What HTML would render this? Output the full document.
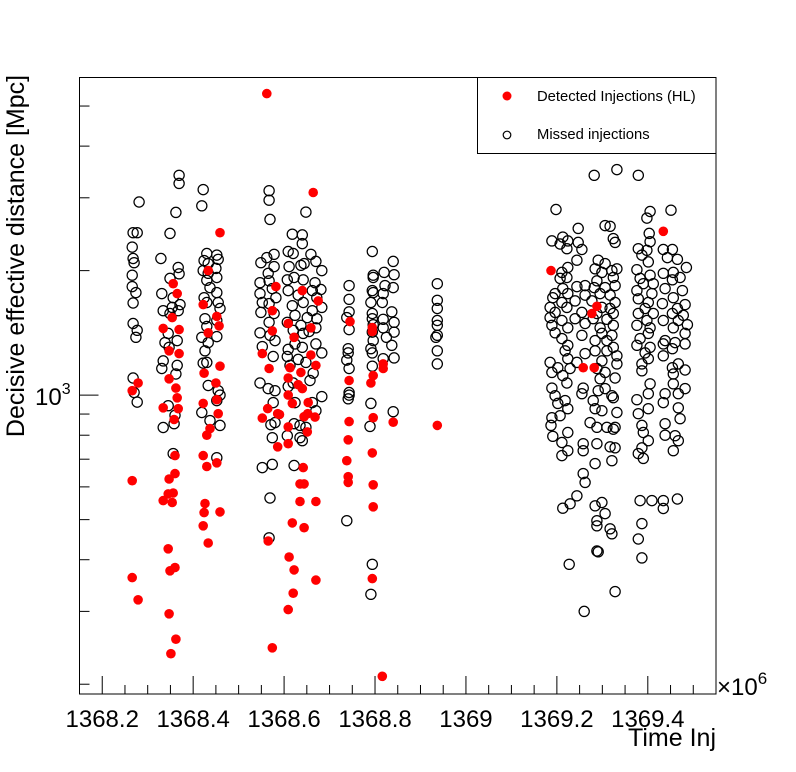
<!DOCTYPE html>
<html><head><meta charset="utf-8">
<style>
html,body{margin:0;padding:0;background:#fff;}
svg{display:block;font-family:"Liberation Sans",Arial,sans-serif;}
</style></head>
<body>
<svg id="chart" width="796" height="772" viewBox="0 0 796 772" xmlns="http://www.w3.org/2000/svg">
<rect x="0" y="0" width="796" height="772" fill="#fff"/>
<g id="marks"></g>
<g id="axes"></g>
<rect x="79.5" y="77.5" width="636.5" height="616.5" fill="none" stroke="#000" stroke-width="1"/>
<g>
<rect x="477.5" y="77.5" width="238.5" height="76" fill="#fff" stroke="#000" stroke-width="1"/>
<circle cx="507" cy="96" r="4.5" fill="#ff0000"/>
<text x="537" y="101" font-size="14.8">Detected Injections (HL)</text>
<circle cx="507" cy="135" r="3.8" fill="none" stroke="#000" stroke-width="1.2"/>
<text x="537" y="139" font-size="14.8">Missed injections</text>
</g>
<text transform="translate(24,256) rotate(-90)" text-anchor="middle" font-size="25">Decisive effective distance [Mpc]</text>
<text x="716" y="746" text-anchor="end" font-size="25">Time Inj</text>
<text x="717" y="695" font-size="24">×10<tspan dy="-11" font-size="17">6</tspan></text>
</svg>
<script>
// ---- data ----
var xRange = [1368.15, 1369.55];
var yRange = [189.4, 5861];
var xTickLabels = ["1368.2","1368.4","1368.6","1368.8","1369","1369.2","1369.4"];
var xTickValues = [1368.2,1368.4,1368.6,1368.8,1369.0,1369.2,1369.4];
var yMinorTicks = [200,300,400,500,600,700,800,900,2000,3000,4000,5000];
var yMajorTicks = [1000];

var detectedTime = [1368.266,1368.279,1368.266,1368.266,1368.279,
1368.356,1368.365,1368.354,1368.369,1368.334,1368.347,1368.369,1368.347,1368.362,1368.365,1368.334,1368.367,1368.358,1368.360,1368.360,1368.347,1368.356,1368.345,1368.334,1368.354,1368.345,1368.349,1368.360,1368.347,1368.362,1368.351,
1368.459,1368.433,1368.422,1368.452,1368.457,1368.433,1368.459,1368.424,1368.450,1368.452,1368.455,1368.422,1368.437,1368.430,1368.422,1368.430,1368.452,1368.426,1368.424,1368.459,1368.422,1368.433,
1368.562,1368.664,1368.582,1368.640,1368.675,1368.574,1368.609,1368.574,1368.659,1368.622,1368.552,1368.659,1368.670,1368.567,1368.613,1368.637,1368.609,1368.631,1368.640,1368.609,1368.653,1368.618,1368.564,1368.586,1368.652,1368.668,1368.552,1368.590,1368.644,1368.609,1368.651,1368.586,1368.609,1368.642,1368.635,1368.644,1368.635,1368.670,1368.618,1368.644,1368.565,1368.611,1368.622,1368.670,1368.620,1368.609,1368.574,
1368.745,1368.743,1368.743,1368.741,1368.738,1368.741,1368.741,
1368.794,1368.794,1368.796,1368.791,1368.818,1368.818,1368.796,1368.840,1368.794,1368.796,1368.796,1368.794,1368.816,
1368.937,
1369.187,1369.434,1369.288,1369.277,1369.258,1369.282];
var detectedDist = [1025,1070,621,362,320,
1860,1760,1540,1440,1450,1280,1260,1095,1040,985,932,927,873,714,646,627,580,577,556,550,425,376,383,296,257,237,
2470,2000,1655,1550,1470,1415,1175,1130,1070,975,902,955,830,800,714,672,686,547,520,522,483,439,
5360,3090,1830,1790,1690,1600,1490,1430,1455,1380,1260,1250,1180,1160,1165,1135,1100,1060,1037,1000,960,955,928,902,902,885,880,898,887,838,815,750,763,668,610,610,553,553,491,478,444,406,378,357,332,303,245,
1506,1085,863,780,694,635,615,
1457,1425,1115,1070,1190,1160,882,860,725,607,537,360,209,
845,
2000,2490,1640,1575,1165,1165];

var missedTime = [1368.281,1368.268,1368.277,1368.266,1368.268,1368.270,1368.266,1368.266,1368.274,1368.268,1368.268,1368.277,1368.274,1368.268,1368.270,1368.277,
1368.369,1368.369,1368.362,1368.349,1368.329,1368.367,1368.349,1368.369,1368.331,1368.356,1368.371,1368.354,1368.334,1368.349,1368.367,1368.345,1368.338,1368.365,1368.347,1368.334,1368.331,1368.365,1368.362,1368.345,1368.360,1368.358,1368.334,1368.356,
1368.422,1368.419,1368.430,1368.452,1368.455,1368.424,1368.433,1368.450,1368.422,1368.433,1368.452,1368.430,1368.437,1368.452,1368.424,1368.430,1368.455,1368.459,1368.426,1368.452,1368.430,1368.452,1368.419,1368.433,1368.426,1368.422,1368.430,1368.433,1368.455,1368.459,1368.452,1368.419,1368.437,1368.459,1368.452,
1368.567,1368.567,1368.569,1368.648,1368.618,1368.640,1368.640,1368.578,1368.562,1368.549,1368.609,1368.620,1368.659,1368.670,1368.644,1368.637,1368.683,1368.578,1368.611,1368.565,1368.547,1368.567,1368.607,1368.622,1368.642,1368.668,1368.681,1368.662,1368.547,1368.574,1368.609,1368.631,1368.582,1368.672,1368.552,1368.567,1368.618,1368.642,1368.683,1368.662,1368.549,1368.578,1368.624,1368.651,1368.672,1368.567,1368.607,1368.637,1368.670,1368.547,1368.569,1368.620,1368.642,1368.655,1368.580,1368.624,1368.670,1368.552,1368.609,1368.640,1368.683,1368.576,1368.607,1368.648,1368.631,1368.613,1368.664,1368.547,1368.565,1368.580,1368.609,1368.620,1368.657,1368.683,1368.576,1368.624,1368.662,1368.670,1368.571,1368.580,1368.622,1368.635,1368.648,1368.574,1368.607,1368.635,1368.640,1368.552,1368.574,1368.622,1368.569,1368.567,
1368.743,1368.743,1368.743,1368.738,1368.743,1368.741,1368.741,1368.738,1368.743,1368.743,1368.743,1368.741,1368.738,
1368.794,1368.796,1368.796,1368.794,1368.796,1368.791,1368.794,1368.794,1368.796,1368.794,1368.796,1368.791,1368.794,1368.794,1368.791,1368.789,1368.820,1368.840,1368.842,1368.822,1368.840,1368.818,1368.816,1368.837,1368.818,1368.842,1368.818,1368.825,1368.842,1368.837,1368.842,1368.818,1368.840,1368.794,1368.791,
1368.937,1368.937,1368.937,1368.937,1368.937,1368.937,1368.934,1368.937,1368.937,
1369.282,1369.332,1369.379,1369.198,1369.405,1369.451,1369.398,1369.306,1369.317,1369.247,1369.403,1369.213,1369.189,1369.224,1369.324,1369.328,1369.405,1369.207,1369.247,1369.222,1369.255,1369.379,1369.434,1369.454,1369.398,1369.387,1369.443,1369.465,1369.244,1369.291,1369.306,1369.401,1369.376,1369.434,1369.456,1369.485,1369.332,1369.284,1369.224,1369.211,1369.299,1369.321,1369.405,1369.471,1369.222,1369.324,1369.207,1369.383,1369.454,1369.288,1369.390,1369.412,1369.262,1369.244,1369.306,1369.282,1369.328,1369.213,1369.438,1369.476,1369.376,1369.196,1369.224,1369.262,1369.295,1369.317,1369.409,1369.456,1369.191,1369.211,1369.240,1369.277,1369.328,1369.379,1369.401,1369.432,1369.482,1369.185,1369.222,1369.299,1369.317,1369.394,1369.465,1369.196,1369.255,1369.288,1369.324,1369.379,1369.412,1369.454,1369.478,1369.185,1369.211,1369.240,1369.280,1369.310,1369.398,1369.434,1369.467,1369.189,1369.224,1369.262,1369.295,1369.324,1369.376,1369.405,1369.456,1369.487,1369.196,1369.299,1369.321,1369.401,1369.482,1369.211,1369.255,1369.284,1369.310,1369.383,1369.438,1369.460,1369.482,1369.224,1369.324,1369.376,1369.405,1369.434,1369.218,1369.284,1369.310,1369.394,1369.454,1369.262,1369.332,1369.434,1369.224,1369.299,1369.401,1369.185,1369.244,1369.332,1369.387,1369.467,1369.454,1369.202,1369.229,1369.288,1369.482,1369.189,1369.306,1369.213,1369.387,1369.295,1369.328,1369.456,1369.258,1369.291,1369.405,1369.189,1369.222,1369.306,1369.456,1369.482,1369.321,1369.401,1369.196,1369.255,1369.438,1369.467,1369.376,1369.280,1369.202,1369.218,1369.324,1369.434,1369.224,1369.284,1369.299,1369.401,1369.467,1369.207,1369.332,1369.379,1369.189,1369.273,1369.438,1369.471,1369.387,1369.187,1369.288,1369.310,1369.328,1369.224,1369.390,1369.324,1369.191,1369.438,1369.460,1369.401,1369.211,1369.258,1369.288,1369.224,1369.317,1369.328,1369.387,1369.467,1369.456,1369.258,1369.379,1369.211,1369.390,1369.284,1369.321,1369.258,1369.262,1369.244,1369.213,1369.229,1369.284,1369.299,1369.306,1369.288,1369.288,1369.317,1369.321,1369.383,1369.409,1369.434,1369.434,1369.465,1369.387,1369.379,1369.387,1369.288,1369.291,1369.227,1369.328,1369.260];
var missedDist = [2930,2470,2470,2280,2140,2090,1950,1830,1770,1670,1490,1435,1380,1100,1015,962,
3400,3250,2765,2460,2140,2035,1915,1965,1760,1720,1655,1630,1600,1575,1600,1410,1340,1355,1305,1210,1160,1180,1125,943,894,853,835,722,
3140,2870,2200,2180,2130,2115,2080,2025,2000,1970,1925,1895,1820,1770,1720,1675,1675,1620,1530,1515,1465,1385,1380,1340,1280,1195,1200,1055,1025,1000,970,908,868,845,706,
3120,2960,2660,2770,2450,2440,2325,2190,2150,2090,2225,2200,2190,2105,2080,2060,2000,2045,2045,1970,1870,1890,1900,1925,1900,1870,1800,1790,1760,1810,1790,1745,1720,1720,1675,1665,1645,1675,1630,1600,1585,1575,1560,1540,1530,1500,1500,1475,1455,1415,1395,1435,1410,1425,1355,1330,1330,1310,1290,1305,1265,1240,1240,1200,1220,1180,1130,1070,1037,1025,1050,1070,1085,992,959,959,959,917,848,858,853,845,836,789,798,789,776,668,680,676,564,452,
1840,1705,1590,1540,1440,1295,1265,1215,1160,1015,1000,980,497,
2225,1950,1925,1790,1770,1675,1575,1530,1480,1420,1355,1295,1265,1175,955,840,1980,2105,1955,1840,1820,1760,1675,1590,1525,1500,1455,1380,1420,1320,1230,1225,912,390,330,
1860,1695,1620,1515,1475,1395,1380,1280,1190,
3400,3510,3400,2810,2780,2800,2680,2570,2560,2530,2460,2410,2360,2360,2390,2340,2350,2320,2340,2260,2250,2260,2250,2250,2240,2180,2150,2130,2120,2120,2080,2100,2010,1970,1980,2035,2020,2020,2035,1980,1980,2000,1950,1925,1925,1925,1915,1915,1900,1890,1860,1860,1840,1830,1820,1820,1840,1810,1810,1790,1790,1760,1760,1745,1760,1745,1760,1720,1720,1675,1690,1690,1675,1710,1675,1665,1655,1630,1630,1630,1620,1620,1620,1585,1585,1575,1575,1575,1575,1575,1560,1540,1515,1530,1530,1525,1515,1515,1515,1475,1455,1490,1455,1475,1475,1455,1455,1480,1415,1410,1395,1410,1410,1370,1395,1355,1355,1370,1355,1340,1330,1320,1305,1320,1305,1330,1280,1280,1280,1265,1295,1260,1245,1245,1225,1210,1225,1200,1200,1190,1190,1190,1165,1165,1160,1160,1150,1135,1135,1115,1145,1095,1100,1125,1040,1025,1065,1040,1070,1037,1065,1037,997,1008,997,1008,1008,1008,975,970,955,970,986,959,927,927,917,927,932,892,908,902,882,858,853,877,845,845,836,836,836,812,812,827,795,800,798,776,768,763,763,734,750,746,746,776,734,734,722,714,703,683,694,646,615,571,533,546,540,550,517,497,483,475,462,556,556,556,532,561,489,449,404,420,418,390,335,300];

// ---- axes ----
var PX = {l:79.5, r:716, t:77.5, b:694};
function xScale(v){ return PX.l + (v - xRange[0])/(xRange[1]-xRange[0])*(PX.r-PX.l); }
function yScale(v){ var a=Math.log10(yRange[0]), b=Math.log10(yRange[1]); return PX.b - (Math.log10(v)-a)/(b-a)*(PX.b-PX.t); }

var NS="http://www.w3.org/2000/svg";
var marks=document.getElementById('marks');
var axes=document.getElementById('axes');
function mk(tag, attrs, parent){ var e=document.createElementNS(NS,tag); for(var k in attrs) e.setAttribute(k,attrs[k]); parent.appendChild(e); return e; }

for (var i=0;i<missedTime.length;i++){
  var c=mk('circle',{cx:xScale(missedTime[i]).toFixed(1),cy:yScale(missedDist[i]).toFixed(1),r:5.1,fill:'none',stroke:'#000','stroke-width':1.25},marks);
  
  
}
for (var j=0;j<detectedTime.length;j++){
  var d=mk('circle',{cx:xScale(detectedTime[j]).toFixed(1),cy:yScale(detectedDist[j]).toFixed(1),r:4.8,fill:'#ff0000'},marks);
  
  
}

for (var t=Math.round(xRange[0]*20); t<=Math.round(xRange[1]*20); t++){
  var v=t/20, x=xScale(v);
  if (x<PX.l-0.5||x>PX.r+0.5) continue;
  var major = (t%4===0);
  var tk=mk('line',{x1:x,x2:x,y1:PX.b,y2:PX.b-(major?18:9),stroke:'#000','stroke-width':1},axes);
  
  
}
for (var k=0;k<xTickValues.length;k++){
  var lb=mk('text',{x:xScale(xTickValues[k]),y:727,'text-anchor':'middle','font-size':24},axes);
  lb.textContent=xTickLabels[k];
  
  
}
yMinorTicks.forEach(function(v){
  var y=yScale(v);
  var tk=mk('line',{x1:PX.l,x2:PX.l+10,y1:y,y2:y,stroke:'#000','stroke-width':1},axes);
  
  
});
yMajorTicks.forEach(function(v){
  var y=yScale(v);
  var tk=mk('line',{x1:PX.l,x2:PX.l+19,y1:y,y2:y,stroke:'#000','stroke-width':1},axes);
  
  
  var lb=mk('text',{x:35,y:y+10,'font-size':24},axes);
  lb.innerHTML='10<tspan dy="-11" font-size="16">3</tspan>';
  
  
});
</script>
</body></html>
